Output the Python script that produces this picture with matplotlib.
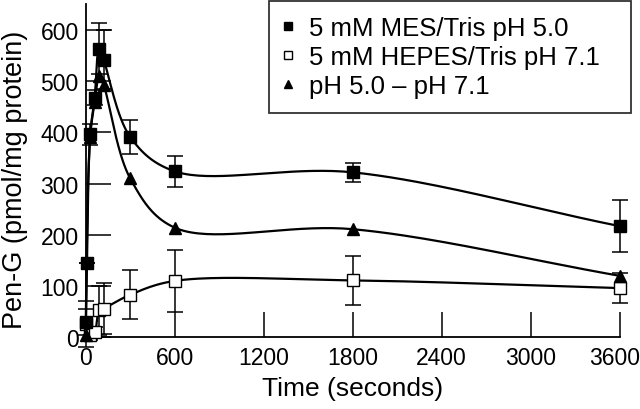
import matplotlib
matplotlib.use("Agg")
import matplotlib.pyplot as plt
from matplotlib.transforms import ScaledTranslation
import numpy as np

plt.rcParams['font.family'] = ['Liberation Sans', 'DejaVu Sans']

# Pen-G uptake
t_mes = [0, 5, 30, 60, 90, 120, 300, 600, 1800, 3600]
mes = [30, 145, 396, 468, 563, 542, 391, 324, 322, 217]
mes_err = [25, 0, 20, 15, 50, 58, 33, 30, 19, 50]

t_hepes = [0, 30, 60, 90, 120, 300, 600, 1800, 3600]
hepes = [25, 5, 10, 53, 56, 83, 110, 111, 96]
hepes_err = [45, 10, 10, 48, 50, 48, 61, 48, 30]

t_diff = [0, 30, 60, 90, 120, 300, 600, 1800, 3600]
diff = [5, 391, 459, 510, 493, 310, 214, 211, 120]

labels = ["5 mM MES/Tris pH 5.0", "5 mM HEPES/Tris pH 7.1", "pH 5.0 \u2013 pH 7.1"]
x_ticks = [0, 600, 1200, 1800, 2400, 3000, 3600]
y_ticks = [0, 100, 200, 300, 400, 500, 600]


def smooth_curve(x, y, sx=89 / 600, sy=51.2 / 100, alpha=0.5, n=40):
    # centripetal Catmull-Rom through the points, worked out in screen-like units
    p = np.column_stack([np.asarray(x, float) * sx, np.asarray(y, float) * sy])
    p = np.vstack([2 * p[0] - p[1], p, 2 * p[-1] - p[-2]])
    out = []
    for i in range(1, len(p) - 2):
        p0, p1, p2, p3 = p[i - 1], p[i], p[i + 1], p[i + 2]
        t0 = 0.0
        t1 = t0 + max(np.linalg.norm(p1 - p0), 1e-6) ** alpha
        t2 = t1 + max(np.linalg.norm(p2 - p1), 1e-6) ** alpha
        t3 = t2 + max(np.linalg.norm(p3 - p2), 1e-6) ** alpha
        t = np.linspace(t1, t2, n)[:, None]
        a1 = (t1 - t) / (t1 - t0) * p0 + (t - t0) / (t1 - t0) * p1
        a2 = (t2 - t) / (t2 - t1) * p1 + (t - t1) / (t2 - t1) * p2
        a3 = (t3 - t) / (t3 - t2) * p2 + (t - t2) / (t3 - t2) * p3
        b1 = (t2 - t) / (t2 - t0) * a1 + (t - t0) / (t2 - t0) * a2
        b2 = (t3 - t) / (t3 - t1) * a2 + (t - t1) / (t3 - t1) * a3
        c = (t2 - t) / (t2 - t1) * b1 + (t - t1) / (t2 - t1) * b2
        out.append(c)
    out = np.vstack(out)
    return out[:, 0] / sx, out[:, 1] / sy


fig = plt.figure(figsize=(6.4, 4.1), dpi=100)
ax = fig.add_axes([0.134, 0.175, 0.834, 0.812])

lw = 1.6
for tx, ty in [(t_mes, mes), (t_hepes, hepes), (t_diff, diff)]:
    cx, cy = smooth_curve(tx, ty)
    ax.plot(cx, cy, color='black', lw=lw, zorder=2, clip_on=False)

ax.errorbar(t_mes, mes, yerr=mes_err, fmt='none', ecolor='black',
            elinewidth=1.1, capsize=6, capthick=1.1, zorder=3, clip_on=False)
ax.errorbar(t_hepes, hepes, yerr=hepes_err, fmt='none', ecolor='black',
            elinewidth=1.1, capsize=6, capthick=1.1, zorder=3, clip_on=False)

h1, = ax.plot(t_mes, mes, 's', ms=8.5, mfc='black', mec='black', mew=1,
              zorder=5, clip_on=False)
h2, = ax.plot(t_hepes, hepes, 's', ms=8.5, mfc='white', mec='black', mew=1,
              zorder=4, clip_on=False)
h3, = ax.plot(t_diff, diff, '^', ms=9, mfc='black', mec='black', mew=1,
              zorder=6, clip_on=False)

ax.set_xlim(0, 3600)
ax.set_ylim(0, 650)
ax.set_xticks(x_ticks)
ax.set_yticks(y_ticks)
ax.tick_params(direction='in', length=18, width=1.1, labelsize=16.5)
ax.tick_params(axis='x', pad=6)
ax.tick_params(axis='y', pad=5)
for s in ['top', 'right']:
    ax.spines[s].set_visible(False)
for s in ['left', 'bottom']:
    ax.spines[s].set_linewidth(1.3)

# last x label pulled in a little so it stays on the canvas
last = ax.get_xticklabels()[-1]
last.set_transform(last.get_transform() + ScaledTranslation(-5 / 100, 0, fig.dpi_scale_trans))

ax.set_xlabel("Time (seconds)", fontsize=19, labelpad=5)
ax.set_ylabel("Pen-G (pmol/mg protein)", fontsize=19.5)
ax.yaxis.set_label_coords(0.043, 0.561, transform=fig.transFigure)

leg = ax.legend([h1, h2, h3], labels, loc='upper left', mode='expand',
                bbox_to_anchor=(269 / 640, 0.0, (631 - 269) / 640, 1 - 2 / 410),
                bbox_transform=fig.transFigure,
                fontsize=18.5, frameon=True, fancybox=False, markerscale=0.6,
                handlelength=0.28, handletextpad=0.68, borderpad=0.6,
                labelspacing=0.18, borderaxespad=0)
leg.get_frame().set_edgecolor('black')
leg.get_frame().set_linewidth(1.3)

fig.savefig("out.png", dpi=100)
